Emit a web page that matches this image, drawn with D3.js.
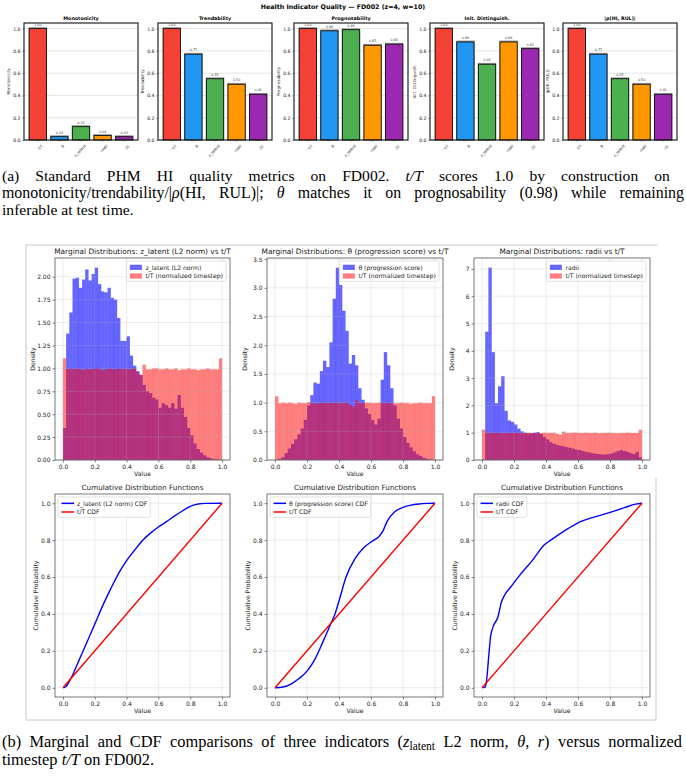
<!DOCTYPE html>
<html><head><meta charset="utf-8">
<script src="https://cdn.jsdelivr.net/npm/d3@7/dist/d3.min.js"></script>
<style>body{margin:0;background:#fff} svg{display:block}</style>
</head><body><svg id="c" width="686" height="778"></svg>
<script>
// ---------------- DATA ----------------
const categories = ["t/T", "θ", "z_latent", "radii", "|z|"];
const barColors = ["#F44336", "#2196F3", "#4CAF50", "#FF9800", "#9C27B0"];
const metricTitles = ["Monotonicity", "Trendability", "Prognosability", "Init. Distinguish.", "|ρ(HI, RUL)|"];
const metricYLabels = ["Monotonicity", "Trendability", "Prognosability", "Init. Distinguish.", "|ρ(HI, RUL)|"];
const monotonicity = [1.00, 0.03, 0.12, 0.04, 0.03];
const trendability = [1.00, 0.77, 0.55, 0.50, 0.41];
const prognosability = [1.00, 0.98, 0.99, 0.85, 0.86];
const initDistinguish = [1.00, 0.88, 0.68, 0.88, 0.82];
const rhoHIRUL = [1.00, 0.77, 0.55, 0.50, 0.41];
const barYTicks = [0.0, 0.2, 0.4, 0.6, 0.8, 1.0];

const histBinCount = 50;
const tTDensity = [1.11,0.99,1.00,0.99,1.00,0.99,0.98,1.00,0.99,0.99,1.01,0.99,0.98,0.99,1.00,0.99,0.99,1.00,0.99,1.00,0.99,0.99,1.00,0.96,0.93,1.04,0.99,0.99,1.00,1.00,0.99,0.99,1.00,0.99,0.99,1.00,0.98,0.99,0.99,1.00,0.99,0.99,0.98,0.99,0.99,1.00,0.99,0.99,0.99,1.11];
const zLatentDensity = [0.35,1.38,1.61,1.98,1.99,1.88,1.97,2.08,1.96,2.03,2.10,1.92,1.84,1.83,1.88,1.77,1.75,1.55,1.30,1.30,1.35,1.14,1.03,0.97,0.93,0.82,0.75,0.73,0.68,0.66,0.57,0.62,0.60,0.57,0.62,0.56,0.71,0.57,0.47,0.35,0.27,0.18,0.12,0.08,0.05,0.03,0.02,0.01,0.005,0.0];
const thetaDensity = [0.0,0.02,0.05,0.12,0.20,0.28,0.36,0.45,0.55,0.70,0.95,1.13,1.35,1.33,1.55,1.73,1.62,2.05,2.81,3.35,3.05,2.60,2.25,1.68,1.83,1.65,1.25,1.05,0.90,0.80,0.70,0.62,0.72,1.40,1.88,1.65,1.25,0.95,0.72,0.55,0.40,0.30,0.22,0.15,0.10,0.07,0.04,0.02,0.01,0.0];
const radiiDensity = [0.0,4.70,7.05,3.95,2.08,2.70,3.07,1.80,1.45,1.40,1.30,1.15,1.05,1.00,0.97,0.98,1.00,1.02,0.95,0.85,0.75,0.65,0.60,0.55,0.52,0.50,0.47,0.45,0.42,0.38,0.37,0.33,0.30,0.28,0.25,0.23,0.22,0.20,0.20,0.22,0.24,0.28,0.33,0.36,0.33,0.30,0.25,0.22,0.30,0.10];

const unitTicks = [0.0, 0.2, 0.4, 0.6, 0.8, 1.0];
const zLatentYTicks = [0.00,0.25,0.50,0.75,1.00,1.25,1.50,1.75,2.00];
const thetaYTicks = [0.0,0.5,1.0,1.5,2.0,2.5,3.0,3.5];
const radiiYTicks = [0,1,2,3,4,5,6,7];

const zLatentCdfX = [0.003,0.02,0.04,0.06,0.08,0.10,0.15,0.20,0.25,0.30,0.35,0.40,0.45,0.50,0.55,0.60,0.65,0.70,0.75,0.80,0.85,0.90,1.0];
const zLatentCdfY = [0,0.007,0.035,0.067,0.107,0.147,0.245,0.345,0.445,0.536,0.62,0.689,0.745,0.798,0.838,0.871,0.90,0.930,0.958,0.983,0.996,0.999,1.0];
const thetaCdfX = [0,0.05,0.1,0.15,0.2,0.25,0.3,0.35,0.375,0.4,0.444,0.5,0.55,0.6,0.65,0.675,0.7,0.75,0.8,0.85,0.9,0.95,1.0];
const thetaCdfY = [0,0.004,0.02,0.05,0.09,0.155,0.25,0.35,0.40,0.47,0.60,0.70,0.755,0.79,0.82,0.85,0.90,0.955,0.978,0.99,0.996,0.999,1.0];
const radiiCdfX = [0.005,0.02,0.03,0.04,0.054,0.069,0.1,0.12,0.14,0.183,0.245,0.31,0.39,0.43,0.515,0.6,0.7,0.8,0.89,0.96,1.0];
const radiiCdfY = [0,0.003,0.05,0.15,0.28,0.33,0.385,0.46,0.50,0.55,0.62,0.685,0.775,0.80,0.85,0.894,0.925,0.95,0.976,0.995,1.0];
const tTCdfX = [0, 1];
const tTCdfY = [0, 1];

// ---------------- DRAW ----------------
const svg = d3.select("#c");
const FONT = "DejaVu Sans";
const SERIF = "Liberation Serif";

function styleAxis(g, fs) {
  g.attr("font-family", FONT);
  g.selectAll("path.domain").remove();
  g.selectAll("line").attr("stroke", "#333").attr("stroke-width", 0.6);
  g.selectAll("text").attr("font-size", fs).attr("fill", "#222");
}

// ---- (a) bar charts ----
svg.append("text").attr("x", 343).attr("y", 9).attr("text-anchor", "middle")
  .attr("font-family", FONT).attr("font-weight", "bold").attr("font-size", 6.3)
  .text("Health Indicator Quality — FD002 (z=4, w=10)");

const barSeries = [monotonicity, trendability, prognosability, initDistinguish, rhoHIRUL];
const barLefts = [24, 158, 294, 430, 563];
const barW = 114, barTop = 23, barBottom = 140;

barSeries.forEach((vals, i) => {
  const L = barLefts[i], R = L + barW;
  const g = svg.append("g");
  const x = d3.scaleBand().domain(categories).range([L, R]).paddingInner(0.2).paddingOuter(0.24);
  const y = d3.scaleLinear().domain([0, 1.05]).range([barBottom, barTop]);
  g.selectAll("line.grid").data(barYTicks).join("line")
    .attr("x1", L).attr("x2", R).attr("y1", d => y(d)).attr("y2", d => y(d))
    .attr("stroke", "#d9d9d9").attr("stroke-width", 0.7);
  g.selectAll("rect.sh").data(vals).join("rect")
    .attr("x", (d, j) => x(categories[j]) - 0.6).attr("y", d => y(d) - 1.4)
    .attr("width", x.bandwidth() + 1.2).attr("height", d => barBottom - y(d) + 1.4)
    .attr("fill", "#9a9a9a");
  g.selectAll("rect.bar").data(vals).join("rect")
    .attr("x", (d, j) => x(categories[j])).attr("y", d => y(d))
    .attr("width", x.bandwidth()).attr("height", d => barBottom - y(d))
    .attr("fill", (d, j) => barColors[j]).attr("stroke", "#111").attr("stroke-width", 0.9);
  g.selectAll("text.val").data(vals).join("text")
    .attr("x", (d, j) => x(categories[j]) + x.bandwidth() / 2).attr("y", d => y(d) - 3)
    .attr("text-anchor", "middle").attr("font-family", FONT).attr("font-size", 3.3).attr("fill", "#333")
    .text(d => d.toFixed(2));
  g.append("rect").attr("x", L).attr("y", barTop).attr("width", barW).attr("height", barBottom - barTop)
    .attr("fill", "none").attr("stroke", "#111").attr("stroke-width", 1.1);
  const ya = g.append("g").attr("transform", `translate(${L},0)`)
    .call(d3.axisLeft(y).tickValues(barYTicks).tickSize(1.5).tickPadding(2).tickFormat(d3.format(".1f")));
  styleAxis(ya, 4.6);
  const xa = g.append("g").attr("transform", `translate(0,${barBottom})`)
    .call(d3.axisBottom(x).tickSize(1.5).tickPadding(2));
  styleAxis(xa, 3.8);
  xa.selectAll("text").attr("text-anchor", "end").attr("dy", "0.3em")
    .attr("transform", "translate(2,3) rotate(-45)");
  g.append("text").attr("x", (L + R) / 2).attr("y", barTop - 3.5).attr("text-anchor", "middle")
    .attr("font-family", FONT).attr("font-weight", "bold").attr("font-size", 4.8).text(metricTitles[i]);
  g.append("text").attr("transform", `translate(${L - 14},${(barTop + barBottom) / 2}) rotate(-90)`)
    .attr("text-anchor", "middle").attr("font-family", FONT).attr("font-size", 4.2).attr("fill", "#222")
    .text(metricYLabels[i]);
});

// ---- captions ----
function justifyLine(textSel, target) {
  const node = textSel.node();
  const natural = node.getComputedTextLength();
  const spaces = (node.textContent.match(/ /g) || []).length;
  if (spaces > 0) textSel.attr("word-spacing", (target - natural) / spaces);
}
function captionLine(y, parts, justifyWidth, fs) {
  const t = svg.append("text").attr("x", 2).attr("y", y).attr("font-family", SERIF).attr("font-size", fs || 15.6).attr("fill", "#000");
  parts.forEach(p => {
    const ts = t.append("tspan").text(p.t);
    if (p.i) ts.attr("font-style", "italic");
    if (p.sub) ts.attr("font-size", 11.5).attr("dy", 3);
    if (p.up) ts.attr("dy", -3);
  });
  if (justifyWidth) justifyLine(t, justifyWidth);
  return t;
}
captionLine(181, [{t: "(a) Standard PHM HI quality metrics on FD002.  "}, {t: "t/T", i: 1}, {t: " scores 1.0 by construction on"}], 680);
captionLine(198, [{t: "monotonicity/trendability/|"}, {t: "ρ", i: 1}, {t: "(HI, RUL)|; "}, {t: "θ", i: 1}, {t: " matches it on prognosability (0.98) while remaining"}], 682, 15.9);
captionLine(215, [{t: "inferable at test time."}]);
captionLine(747, [{t: "(b) Marginal and CDF comparisons of three indicators ("}, {t: "z", i: 1}, {t: "latent", sub: 1}, {t: " L2 norm, ", up: 1}, {t: "θ", i: 1}, {t: ", "}, {t: "r", i: 1}, {t: ") versus normalized"}], 680, 16.4);
captionLine(765, [{t: "timestep "}, {t: "t/T", i: 1}, {t: " on FD002."}], null, 16.4);

// ---- (b) border ----
svg.append("path").attr("d", "M656,478 V720 H26 V245 H658").attr("fill", "none").attr("stroke", "#c8c8c8").attr("stroke-width", 1);

const panelX = [{L: 55, R: 230}, {L: 267, R: 443}, {L: 474, R: 650}];
const binEdges = d3.range(histBinCount + 1).map(k => k / histBinCount);

function legendBox(g, x0, y0, items, anchorRight, fs) {
  const lg = g.append("g");
  const rowH = fs * 1.42;
  const texts = items.map((it, k) => lg.append("text").attr("font-family", FONT).attr("font-size", fs).attr("fill", "#222").text(it.label));
  const maxW = d3.max(texts, t => t.node().getComputedTextLength());
  const w = maxW + 22, h = items.length * rowH + 3;
  const bx = anchorRight ? x0 - w : x0;
  lg.insert("rect", ":first-child").attr("x", bx).attr("y", y0).attr("width", w).attr("height", h)
    .attr("rx", 1.5).attr("fill", "#fff").attr("fill-opacity", 0.8).attr("stroke", "#ccc").attr("stroke-width", 0.6);
  items.forEach((it, k) => {
    const cy = y0 + 2 + rowH * k + rowH / 2;
    if (it.type === "patch") {
      lg.append("rect").attr("x", bx + 3.5).attr("y", cy - 2.6).attr("width", 12).attr("height", 5.2)
        .attr("fill", it.color).attr("fill-opacity", it.op);
    } else {
      lg.append("line").attr("x1", bx + 3.5).attr("x2", bx + 16).attr("y1", cy).attr("y2", cy)
        .attr("stroke", it.color).attr("stroke-width", 1.5);
    }
    texts[k].attr("x", bx + 19).attr("y", cy + fs * 0.36);
  });
}

function frameAndGrid(g, x, y, L, R, T, B, xt, yt) {
  g.selectAll(null).data(xt).join("line").attr("x1", d => x(d)).attr("x2", d => x(d)).attr("y1", T).attr("y2", B)
    .attr("stroke", "#b0b0b0").attr("stroke-opacity", 0.35).attr("stroke-width", 0.7);
  g.selectAll(null).data(yt).join("line").attr("y1", d => y(d)).attr("y2", d => y(d)).attr("x1", L).attr("x2", R)
    .attr("stroke", "#b0b0b0").attr("stroke-opacity", 0.35).attr("stroke-width", 0.7);
  g.append("rect").attr("x", L).attr("y", T).attr("width", R - L).attr("height", B - T)
    .attr("fill", "none").attr("stroke", "#555").attr("stroke-width", 0.8);
}

const histPanels = [
  {dens: zLatentDensity, ymax: 2.205, yt: zLatentYTicks, fmt: ".2f", name: "z_latent (L2 norm)", title: "Marginal Distributions: z_latent (L2 norm) vs t/T"},
  {dens: thetaDensity, ymax: 3.52, yt: thetaYTicks, fmt: ".1f", name: "θ (progression score)", title: "Marginal Distributions: θ (progression score) vs t/T"},
  {dens: radiiDensity, ymax: 7.4, yt: radiiYTicks, fmt: "d", name: "radii", title: "Marginal Distributions: radii vs t/T"}
];
const hT = 258, hB = 460;
histPanels.forEach((p, i) => {
  const {L, R} = panelX[i];
  const g = svg.append("g");
  const x = d3.scaleLinear().domain([-0.05, 1.05]).range([L, R]);
  const y = d3.scaleLinear().domain([0, p.ymax]).range([hB, hT]);
  g.selectAll("rect.b").data(p.dens).join("rect")
    .attr("x", (d, k) => x(binEdges[k])).attr("width", (d, k) => x(binEdges[k + 1]) - x(binEdges[k]) + 0.15)
    .attr("y", d => y(d)).attr("height", d => hB - y(d)).attr("fill", "#0000ff").attr("fill-opacity", 0.6);
  g.selectAll("rect.r").data(tTDensity).join("rect")
    .attr("x", (d, k) => x(binEdges[k])).attr("width", (d, k) => x(binEdges[k + 1]) - x(binEdges[k]) + 0.15)
    .attr("y", d => y(d)).attr("height", d => hB - y(d)).attr("fill", "#ff0000").attr("fill-opacity", 0.5);
  frameAndGrid(g, x, y, L, R, hT, hB, unitTicks, p.yt);
  const xa = g.append("g").attr("transform", `translate(0,${hB})`).call(d3.axisBottom(x).tickValues(unitTicks).tickSize(2.5).tickPadding(2).tickFormat(d3.format(".1f")));
  styleAxis(xa, 6);
  const ya = g.append("g").attr("transform", `translate(${L},0)`).call(d3.axisLeft(y).tickValues(p.yt).tickSize(2.5).tickPadding(2).tickFormat(d3.format(p.fmt)));
  styleAxis(ya, 6);
  g.append("text").attr("x", (L + R) / 2).attr("y", hT - 4).attr("text-anchor", "middle").attr("font-family", FONT).attr("font-size", 7.4).attr("fill", "#222").text(p.title);
  g.append("text").attr("x", (L + R) / 2).attr("y", hB + 16).attr("text-anchor", "middle").attr("font-family", FONT).attr("font-size", 6.2).attr("fill", "#222").text("Value");
  g.append("text").attr("transform", `translate(${L - 20},${(hT + hB) / 2}) rotate(-90)`).attr("text-anchor", "middle").attr("font-family", FONT).attr("font-size", 6.2).attr("fill", "#222").text("Density");
  legendBox(g, R - 4, hT + 3, [
    {type: "patch", color: "#0000ff", op: 0.6, label: p.name},
    {type: "patch", color: "#ff0000", op: 0.5, label: "t/T (normalized timestep)"}
  ], true, 6.1);
});

const cdfPanels = [
  {cx: zLatentCdfX, cy: zLatentCdfY, name: "z_latent (L2 norm) CDF"},
  {cx: thetaCdfX, cy: thetaCdfY, name: "θ (progression score) CDF"},
  {cx: radiiCdfX, cy: radiiCdfY, name: "radii CDF"}
];
const cT = 494, cB = 697;
cdfPanels.forEach((p, i) => {
  const {L, R} = panelX[i];
  const g = svg.append("g");
  const x = d3.scaleLinear().domain([-0.05, 1.05]).range([L, R]);
  const y = d3.scaleLinear().domain([-0.05, 1.05]).range([cB, cT]);
  frameAndGrid(g, x, y, L, R, cT, cB, unitTicks, unitTicks);
  const line = d3.line().x(d => x(d[0])).y(d => y(d[1])).curve(d3.curveMonotoneX);
  g.append("path").attr("d", line(d3.zip(p.cx, p.cy))).attr("fill", "none").attr("stroke", "#0000ff").attr("stroke-width", 1.4);
  g.append("path").attr("d", line(d3.zip(tTCdfX, tTCdfY))).attr("fill", "none").attr("stroke", "#ff0000").attr("stroke-width", 1.4);
  const xa = g.append("g").attr("transform", `translate(0,${cB})`).call(d3.axisBottom(x).tickValues(unitTicks).tickSize(2.5).tickPadding(2).tickFormat(d3.format(".1f")));
  styleAxis(xa, 6);
  const ya = g.append("g").attr("transform", `translate(${L},0)`).call(d3.axisLeft(y).tickValues(unitTicks).tickSize(2.5).tickPadding(2).tickFormat(d3.format(".1f")));
  styleAxis(ya, 6);
  g.append("text").attr("x", (L + R) / 2).attr("y", cT - 4).attr("text-anchor", "middle").attr("font-family", FONT).attr("font-size", 7.2).attr("fill", "#222").text("Cumulative Distribution Functions");
  g.append("text").attr("x", (L + R) / 2).attr("y", cB + 16).attr("text-anchor", "middle").attr("font-family", FONT).attr("font-size", 6.2).attr("fill", "#222").text("Value");
  g.append("text").attr("transform", `translate(${L - 17},${(cT + cB) / 2}) rotate(-90)`).attr("text-anchor", "middle").attr("font-family", FONT).attr("font-size", 6.2).attr("fill", "#222").text("Cumulative Probability");
  legendBox(g, L + 3, cT + 3, [
    {type: "line", color: "#0000ff", label: p.name},
    {type: "line", color: "#ff0000", label: "t/T CDF"}
  ], false, 6.1);
});
</script></body></html>
